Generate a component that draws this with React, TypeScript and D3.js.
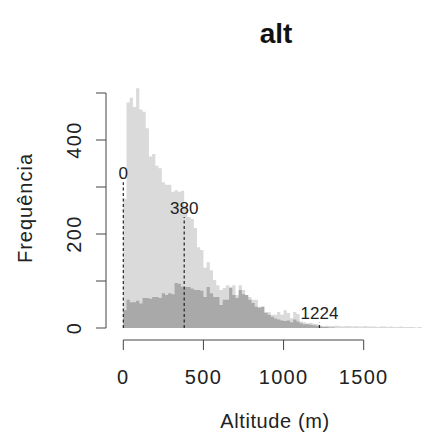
import { useEffect, useRef } from "react";
import * as d3 from "d3";

// histogram of altitudes, 20 m bins starting at 0
const binWidth = 20;
const allCounts = [
  275, 480, 490, 470, 510, 465, 460, 425, 365, 370,
  345, 340, 310, 305, 305, 290, 293, 290, 292, 260,
  236, 232, 213, 172, 166, 128, 140, 123, 102, 91,
  81, 85, 91, 88, 91, 70, 91, 81, 66, 66,
  60, 60, 45, 45, 34, 34, 28, 28, 34, 28,
  38, 32, 21, 34, 30, 14, 12, 10, 11, 9,
  8, 5, 4, 5, 4, 4, 5, 4, 3, 4,
  4, 3, 4, 3, 3, 4, 3, 3, 3, 2,
  3, 3, 2, 3, 2, 2, 3, 2, 2, 2,
  2, 1, 2, 1
];
const subCounts = [
  38, 60, 55, 55, 58, 52, 64, 64, 62, 66,
  66, 64, 74, 70, 74, 72, 96, 94, 88, 87,
  87, 84, 81, 81, 79, 66, 87, 74, 66, 66,
  49, 60, 60, 85, 70, 64, 81, 72, 70, 60,
  53, 45, 43, 45, 32, 28, 24, 20, 18, 16,
  15, 16, 12, 18, 14, 10, 8, 8, 7, 6,
  5, 3, 2, 2, 1, 1
];
const markers = [
  { value: 0, label: "0", top: 310 },
  { value: 380, label: "380", top: 236 },
  { value: 1224, label: "1224", top: 12 }
];
const xTicks = [0, 500, 1000, 1500];
const yTicks = [0, 100, 200, 300, 400, 500];
const yLabels = [0, 200, 400];

function App() {
  const canvas = useRef<SVGSVGElement>(null);

  const drawChart = () => {
    const width = 422;
    const height = 439;
    const svg = d3.select(canvas.current).attr("width", width).attr("height", height);
    svg.selectAll("*").remove();

    const x = d3.scaleLinear().domain([0, 1500]).range([123.3, 363.7]);
    const y = d3.scaleLinear().domain([0, 500]).range([328, 93]);
    const font = "'Liberation Sans', Arial, Helvetica, sans-serif";

    const area = d3
      .area<number>()
      .x((d, i) => x(i * binWidth))
      .y0(y(0))
      .y1((d) => y(d))
      .curve(d3.curveStepAfter);

    const drawHist = (counts: number[], fill: string) => {
      const pts = counts.concat([counts[counts.length - 1]]);
      svg.append("path").attr("d", area(pts)).attr("fill", fill);
    };
    drawHist(allCounts, "#dadada");
    drawHist(subCounts, "#a9a9a9");

    // dashed markers
    markers.forEach((m) => {
      svg
        .append("line")
        .attr("x1", x(m.value))
        .attr("x2", x(m.value))
        .attr("y1", y(0))
        .attr("y2", y(m.top))
        .attr("stroke", "#222")
        .attr("stroke-width", 1.2)
        .attr("stroke-dasharray", "3,2.5");
      svg
        .append("text")
        .attr("x", x(m.value))
        .attr("y", y(m.top) - 3)
        .attr("text-anchor", "middle")
        .attr("font-family", font)
        .attr("font-size", 17)
        .attr("fill", "#222")
        .text(m.label);
    });

    // x axis
    const gx = svg.append("g");
    gx.append("line")
      .attr("x1", x(0)).attr("x2", x(1500))
      .attr("y1", 340).attr("y2", 340)
      .attr("stroke", "#444");
    xTicks.forEach((t) => {
      gx.append("line")
        .attr("x1", x(t)).attr("x2", x(t))
        .attr("y1", 340).attr("y2", 350)
        .attr("stroke", "#444");
      gx.append("text")
        .attr("x", x(t))
        .attr("y", 384)
        .attr("text-anchor", "middle")
        .attr("font-family", font)
        .attr("font-size", 20)
        .attr("letter-spacing", 1.3)
        .attr("fill", "#222")
        .text(t);
    });

    // y axis
    const gy = svg.append("g");
    gy.append("line")
      .attr("x1", 106).attr("x2", 106)
      .attr("y1", y(0)).attr("y2", y(500))
      .attr("stroke", "#444");
    yTicks.forEach((t) => {
      gy.append("line")
        .attr("x1", 96).attr("x2", 106)
        .attr("y1", y(t)).attr("y2", y(t))
        .attr("stroke", "#444");
    });
    yLabels.forEach((t) => {
      gy.append("text")
        .attr("transform", `translate(81, ${y(t)}) rotate(-90)`)
        .attr("text-anchor", "middle")
        .attr("font-family", font)
        .attr("font-size", 20)
        .attr("letter-spacing", 1.3)
        .attr("fill", "#222")
        .text(t);
    });

    svg.append("text")
      .attr("transform", "translate(32, 208) rotate(-90)")
      .attr("text-anchor", "middle")
      .attr("font-family", font)
      .attr("font-size", 20)
      .attr("letter-spacing", 1)
      .attr("fill", "#222")
      .text("Frequência");

    svg.append("text")
      .attr("x", 275)
      .attr("y", 428)
      .attr("text-anchor", "middle")
      .attr("font-family", font)
      .attr("font-size", 20)
      .attr("letter-spacing", 0.6)
      .attr("fill", "#222")
      .text("Altitude (m)");

    svg.append("text")
      .attr("x", 276)
      .attr("y", 43)
      .attr("text-anchor", "middle")
      .attr("font-family", font)
      .attr("font-size", 28)
      .attr("font-weight", "bold")
      .attr("fill", "#111")
      .text("alt");
  };

  useEffect(() => {
    drawChart();
  }, []);

  return (
    <div>
      <svg ref={canvas} style={{ position: "absolute", left: 0, top: 0 }} />
    </div>
  );
}
export default App;
